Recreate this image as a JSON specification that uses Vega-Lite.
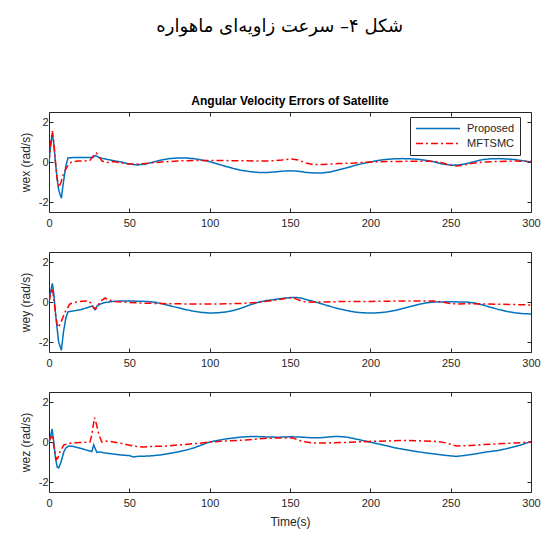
{
  "$schema": "https://vega.github.io/schema/vega-lite/v6.json",
  "padding": {"left": 18, "top": 18, "right": 5, "bottom": 5},
  "background": "white",
  "config": {
    "font": "Liberation Sans",
    "view": {"stroke": "#262626", "strokeWidth": 1},
    "axis": {
      "domain": false, "grid": false, "tickColor": "#262626", "tickSize": -4, "tickWidth": 1,
      "labelColor": "#262626", "labelFontSize": 11, "labelFont": "Liberation Sans", "labelFlush": false, "labelOverlap": false,
      "labelPadding": 5,
      "titleFont": "Liberation Sans", "titleFontWeight": "normal", "titleFontSize": 12, "titleColor": "#262626"
    },
    "axisX": {"labelPadding": 9}
  },
  "title": {"text": "شکل ۴– سرعت زاویه‌ای ماهواره", "font": "DejaVu Sans", "fontSize": 18, "fontWeight": "normal", "anchor": "middle", "frame": "bounds", "offset": 58, "color": "black"},
  "datasets": {
    "x": [
      {"s":"Proposed","t":0,"v":0},{"s":"Proposed","t":1,"v":0.8},{"s":"Proposed","t":2,"v":1.45},{"s":"Proposed","t":3,"v":0.9},{"s":"Proposed","t":4,"v":0.0},{"s":"Proposed","t":5,"v":-0.8},{"s":"Proposed","t":6,"v":-1.4},{"s":"Proposed","t":7.7,"v":-1.81},{"s":"Proposed","t":9,"v":-1.0},{"s":"Proposed","t":10.5,"v":-0.2},{"s":"Proposed","t":11.8,"v":0.2},{"s":"Proposed","t":15,"v":0.22},{"s":"Proposed","t":20,"v":0.22},{"s":"Proposed","t":25,"v":0.22},{"s":"Proposed","t":27.4,"v":0.23},{"s":"Proposed","t":29,"v":0.33},{"s":"Proposed","t":31,"v":0.22},{"s":"Proposed","t":35,"v":0.15},{"s":"Proposed","t":40,"v":0.07},{"s":"Proposed","t":45,"v":0.0},{"s":"Proposed","t":50,"v":-0.1},{"s":"Proposed","t":55,"v":-0.15},{"s":"Proposed","t":60,"v":-0.1},{"s":"Proposed","t":65,"v":0.0},{"s":"Proposed","t":70,"v":0.1},{"s":"Proposed","t":75,"v":0.17},{"s":"Proposed","t":80,"v":0.2},{"s":"Proposed","t":85,"v":0.2},{"s":"Proposed","t":90,"v":0.17},{"s":"Proposed","t":95,"v":0.1},{"s":"Proposed","t":100,"v":0.02},{"s":"Proposed","t":105,"v":-0.1},{"s":"Proposed","t":110,"v":-0.22},{"s":"Proposed","t":115,"v":-0.33},{"s":"Proposed","t":120,"v":-0.42},{"s":"Proposed","t":125,"v":-0.48},{"s":"Proposed","t":130,"v":-0.52},{"s":"Proposed","t":135,"v":-0.53},{"s":"Proposed","t":140,"v":-0.5},{"s":"Proposed","t":145,"v":-0.46},{"s":"Proposed","t":150,"v":-0.44},{"s":"Proposed","t":155,"v":-0.46},{"s":"Proposed","t":160,"v":-0.52},{"s":"Proposed","t":165,"v":-0.55},{"s":"Proposed","t":170,"v":-0.55},{"s":"Proposed","t":175,"v":-0.5},{"s":"Proposed","t":180,"v":-0.4},{"s":"Proposed","t":185,"v":-0.3},{"s":"Proposed","t":190,"v":-0.18},{"s":"Proposed","t":195,"v":-0.08},{"s":"Proposed","t":200,"v":0.0},{"s":"Proposed","t":205,"v":0.08},{"s":"Proposed","t":210,"v":0.13},{"s":"Proposed","t":215,"v":0.16},{"s":"Proposed","t":220,"v":0.17},{"s":"Proposed","t":225,"v":0.16},{"s":"Proposed","t":230,"v":0.13},{"s":"Proposed","t":235,"v":0.08},{"s":"Proposed","t":240,"v":0.0},{"s":"Proposed","t":245,"v":-0.1},{"s":"Proposed","t":250,"v":-0.16},{"s":"Proposed","t":255,"v":-0.15},{"s":"Proposed","t":260,"v":-0.08},{"s":"Proposed","t":265,"v":0.03},{"s":"Proposed","t":270,"v":0.12},{"s":"Proposed","t":275,"v":0.16},{"s":"Proposed","t":280,"v":0.17},{"s":"Proposed","t":285,"v":0.15},{"s":"Proposed","t":290,"v":0.12},{"s":"Proposed","t":295,"v":0.06},{"s":"Proposed","t":300,"v":0.0},
      {"s":"MFTSMC","t":0,"v":0},{"s":"MFTSMC","t":1,"v":0.9},{"s":"MFTSMC","t":2.1,"v":1.55},{"s":"MFTSMC","t":3,"v":1.0},{"s":"MFTSMC","t":4,"v":0.0},{"s":"MFTSMC","t":5,"v":-0.8},{"s":"MFTSMC","t":6.2,"v":-1.27},{"s":"MFTSMC","t":7.5,"v":-1.0},{"s":"MFTSMC","t":9,"v":-0.6},{"s":"MFTSMC","t":10.5,"v":-0.35},{"s":"MFTSMC","t":12,"v":-0.15},{"s":"MFTSMC","t":14,"v":0.0},{"s":"MFTSMC","t":18,"v":0.05},{"s":"MFTSMC","t":22,"v":0.05},{"s":"MFTSMC","t":25.5,"v":0.08},{"s":"MFTSMC","t":27,"v":0.25},{"s":"MFTSMC","t":29.5,"v":0.45},{"s":"MFTSMC","t":31,"v":0.3},{"s":"MFTSMC","t":33,"v":0.05},{"s":"MFTSMC","t":36,"v":-0.02},{"s":"MFTSMC","t":40,"v":0.02},{"s":"MFTSMC","t":45,"v":-0.05},{"s":"MFTSMC","t":50,"v":-0.1},{"s":"MFTSMC","t":55,"v":-0.1},{"s":"MFTSMC","t":60,"v":-0.07},{"s":"MFTSMC","t":70,"v":0.0},{"s":"MFTSMC","t":80,"v":0.05},{"s":"MFTSMC","t":90,"v":0.08},{"s":"MFTSMC","t":100,"v":0.08},{"s":"MFTSMC","t":110,"v":0.07},{"s":"MFTSMC","t":120,"v":0.06},{"s":"MFTSMC","t":130,"v":0.05},{"s":"MFTSMC","t":137,"v":0.05},{"s":"MFTSMC","t":145,"v":0.1},{"s":"MFTSMC","t":151,"v":0.15},{"s":"MFTSMC","t":155,"v":0.1},{"s":"MFTSMC","t":160,"v":-0.05},{"s":"MFTSMC","t":164,"v":-0.13},{"s":"MFTSMC","t":170,"v":-0.12},{"s":"MFTSMC","t":180,"v":-0.08},{"s":"MFTSMC","t":190,"v":-0.05},{"s":"MFTSMC","t":200,"v":0.0},{"s":"MFTSMC","t":210,"v":0.02},{"s":"MFTSMC","t":220,"v":0.03},{"s":"MFTSMC","t":230,"v":0.04},{"s":"MFTSMC","t":240,"v":0.03},{"s":"MFTSMC","t":245,"v":-0.05},{"s":"MFTSMC","t":250,"v":-0.15},{"s":"MFTSMC","t":254,"v":-0.2},{"s":"MFTSMC","t":258,"v":-0.15},{"s":"MFTSMC","t":265,"v":-0.05},{"s":"MFTSMC","t":270,"v":0.0},{"s":"MFTSMC","t":280,"v":0.03},{"s":"MFTSMC","t":290,"v":0.05},{"s":"MFTSMC","t":300,"v":0.02}
    ],
    "y": [
      {"s":"Proposed","t":0,"v":0},{"s":"Proposed","t":1,"v":0.5},{"s":"Proposed","t":2.1,"v":0.93},{"s":"Proposed","t":3,"v":0.4},{"s":"Proposed","t":4,"v":-0.5},{"s":"Proposed","t":5,"v":-1.3},{"s":"Proposed","t":6,"v":-2.0},{"s":"Proposed","t":7.7,"v":-2.41},{"s":"Proposed","t":9,"v":-1.5},{"s":"Proposed","t":10.5,"v":-0.8},{"s":"Proposed","t":11.8,"v":-0.49},{"s":"Proposed","t":15,"v":-0.45},{"s":"Proposed","t":20,"v":-0.38},{"s":"Proposed","t":25,"v":-0.25},{"s":"Proposed","t":27,"v":-0.2},{"s":"Proposed","t":28.4,"v":-0.37},{"s":"Proposed","t":30,"v":-0.2},{"s":"Proposed","t":32,"v":-0.1},{"s":"Proposed","t":35,"v":-0.02},{"s":"Proposed","t":40,"v":0.03},{"s":"Proposed","t":45,"v":0.05},{"s":"Proposed","t":50,"v":0.05},{"s":"Proposed","t":55,"v":0.04},{"s":"Proposed","t":60,"v":0.03},{"s":"Proposed","t":65,"v":0.0},{"s":"Proposed","t":70,"v":-0.08},{"s":"Proposed","t":75,"v":-0.18},{"s":"Proposed","t":80,"v":-0.28},{"s":"Proposed","t":85,"v":-0.38},{"s":"Proposed","t":90,"v":-0.46},{"s":"Proposed","t":95,"v":-0.52},{"s":"Proposed","t":100,"v":-0.55},{"s":"Proposed","t":105,"v":-0.54},{"s":"Proposed","t":110,"v":-0.5},{"s":"Proposed","t":115,"v":-0.42},{"s":"Proposed","t":120,"v":-0.3},{"s":"Proposed","t":125,"v":-0.15},{"s":"Proposed","t":130,"v":-0.02},{"s":"Proposed","t":135,"v":0.07},{"s":"Proposed","t":140,"v":0.12},{"s":"Proposed","t":145,"v":0.18},{"s":"Proposed","t":150,"v":0.22},{"s":"Proposed","t":153,"v":0.23},{"s":"Proposed","t":157,"v":0.2},{"s":"Proposed","t":160,"v":0.12},{"s":"Proposed","t":165,"v":0.02},{"s":"Proposed","t":170,"v":-0.1},{"s":"Proposed","t":175,"v":-0.22},{"s":"Proposed","t":180,"v":-0.33},{"s":"Proposed","t":185,"v":-0.42},{"s":"Proposed","t":190,"v":-0.5},{"s":"Proposed","t":195,"v":-0.54},{"s":"Proposed","t":200,"v":-0.55},{"s":"Proposed","t":205,"v":-0.54},{"s":"Proposed","t":210,"v":-0.5},{"s":"Proposed","t":215,"v":-0.43},{"s":"Proposed","t":220,"v":-0.33},{"s":"Proposed","t":225,"v":-0.22},{"s":"Proposed","t":230,"v":-0.12},{"s":"Proposed","t":235,"v":-0.04},{"s":"Proposed","t":240,"v":0.0},{"s":"Proposed","t":250,"v":0.01},{"s":"Proposed","t":260,"v":0.0},{"s":"Proposed","t":265,"v":-0.05},{"s":"Proposed","t":270,"v":-0.15},{"s":"Proposed","t":275,"v":-0.27},{"s":"Proposed","t":280,"v":-0.38},{"s":"Proposed","t":285,"v":-0.47},{"s":"Proposed","t":290,"v":-0.54},{"s":"Proposed","t":295,"v":-0.58},{"s":"Proposed","t":300,"v":-0.6},
      {"s":"MFTSMC","t":0,"v":0},{"s":"MFTSMC","t":1,"v":0.4},{"s":"MFTSMC","t":2,"v":0.68},{"s":"MFTSMC","t":3,"v":0.2},{"s":"MFTSMC","t":4,"v":-0.6},{"s":"MFTSMC","t":5,"v":-1.1},{"s":"MFTSMC","t":6,"v":-1.27},{"s":"MFTSMC","t":7.5,"v":-1.0},{"s":"MFTSMC","t":9,"v":-0.7},{"s":"MFTSMC","t":10,"v":-0.5},{"s":"MFTSMC","t":11.5,"v":-0.3},{"s":"MFTSMC","t":13,"v":-0.1},{"s":"MFTSMC","t":17,"v":0.0},{"s":"MFTSMC","t":21,"v":0.04},{"s":"MFTSMC","t":24.5,"v":0.05},{"s":"MFTSMC","t":26,"v":-0.05},{"s":"MFTSMC","t":27.5,"v":-0.25},{"s":"MFTSMC","t":29,"v":-0.37},{"s":"MFTSMC","t":31,"v":-0.1},{"s":"MFTSMC","t":33,"v":0.1},{"s":"MFTSMC","t":35,"v":0.2},{"s":"MFTSMC","t":37,"v":0.1},{"s":"MFTSMC","t":41,"v":0.02},{"s":"MFTSMC","t":50,"v":-0.02},{"s":"MFTSMC","t":60,"v":-0.06},{"s":"MFTSMC","t":70,"v":-0.08},{"s":"MFTSMC","t":80,"v":-0.09},{"s":"MFTSMC","t":90,"v":-0.1},{"s":"MFTSMC","t":100,"v":-0.1},{"s":"MFTSMC","t":110,"v":-0.09},{"s":"MFTSMC","t":120,"v":-0.07},{"s":"MFTSMC","t":130,"v":-0.02},{"s":"MFTSMC","t":140,"v":0.08},{"s":"MFTSMC","t":147,"v":0.18},{"s":"MFTSMC","t":150,"v":0.2},{"s":"MFTSMC","t":153,"v":0.18},{"s":"MFTSMC","t":157,"v":0.05},{"s":"MFTSMC","t":160,"v":0.0},{"s":"MFTSMC","t":170,"v":0.0},{"s":"MFTSMC","t":180,"v":0.02},{"s":"MFTSMC","t":190,"v":0.03},{"s":"MFTSMC","t":200,"v":0.03},{"s":"MFTSMC","t":210,"v":0.04},{"s":"MFTSMC","t":220,"v":0.05},{"s":"MFTSMC","t":230,"v":0.05},{"s":"MFTSMC","t":240,"v":0.05},{"s":"MFTSMC","t":245,"v":0.0},{"s":"MFTSMC","t":250,"v":-0.08},{"s":"MFTSMC","t":255,"v":-0.1},{"s":"MFTSMC","t":260,"v":-0.08},{"s":"MFTSMC","t":270,"v":-0.1},{"s":"MFTSMC","t":280,"v":-0.11},{"s":"MFTSMC","t":290,"v":-0.13},{"s":"MFTSMC","t":300,"v":-0.15}
    ],
    "z": [
      {"s":"Proposed","t":0,"v":0},{"s":"Proposed","t":1,"v":0.3},{"s":"Proposed","t":1.9,"v":0.65},{"s":"Proposed","t":3,"v":0.0},{"s":"Proposed","t":4,"v":-0.8},{"s":"Proposed","t":5.1,"v":-1.25},{"s":"Proposed","t":6,"v":-1.3},{"s":"Proposed","t":7.5,"v":-1.0},{"s":"Proposed","t":9.2,"v":-0.5},{"s":"Proposed","t":10.5,"v":-0.3},{"s":"Proposed","t":12.3,"v":-0.2},{"s":"Proposed","t":15,"v":-0.22},{"s":"Proposed","t":20,"v":-0.32},{"s":"Proposed","t":24,"v":-0.42},{"s":"Proposed","t":26.7,"v":-0.48},{"s":"Proposed","t":27.8,"v":-0.15},{"s":"Proposed","t":29.8,"v":-0.52},{"s":"Proposed","t":31.8,"v":-0.5},{"s":"Proposed","t":35,"v":-0.55},{"s":"Proposed","t":40,"v":-0.6},{"s":"Proposed","t":45,"v":-0.65},{"s":"Proposed","t":50,"v":-0.68},{"s":"Proposed","t":52.5,"v":-0.75},{"s":"Proposed","t":55,"v":-0.72},{"s":"Proposed","t":62.7,"v":-0.7},{"s":"Proposed","t":70,"v":-0.64},{"s":"Proposed","t":73,"v":-0.6},{"s":"Proposed","t":80,"v":-0.5},{"s":"Proposed","t":85.5,"v":-0.4},{"s":"Proposed","t":90,"v":-0.3},{"s":"Proposed","t":95,"v":-0.15},{"s":"Proposed","t":100,"v":0.0},{"s":"Proposed","t":105,"v":0.08},{"s":"Proposed","t":110,"v":0.15},{"s":"Proposed","t":114.6,"v":0.2},{"s":"Proposed","t":120,"v":0.25},{"s":"Proposed","t":125,"v":0.27},{"s":"Proposed","t":130,"v":0.27},{"s":"Proposed","t":137,"v":0.25},{"s":"Proposed","t":143,"v":0.24},{"s":"Proposed","t":149.6,"v":0.26},{"s":"Proposed","t":156,"v":0.25},{"s":"Proposed","t":164,"v":0.21},{"s":"Proposed","t":170,"v":0.22},{"s":"Proposed","t":178.7,"v":0.28},{"s":"Proposed","t":185,"v":0.25},{"s":"Proposed","t":191,"v":0.15},{"s":"Proposed","t":199.5,"v":0.0},{"s":"Proposed","t":208,"v":-0.15},{"s":"Proposed","t":216,"v":-0.3},{"s":"Proposed","t":223,"v":-0.4},{"s":"Proposed","t":230.5,"v":-0.5},{"s":"Proposed","t":240,"v":-0.6},{"s":"Proposed","t":247,"v":-0.67},{"s":"Proposed","t":253.3,"v":-0.72},{"s":"Proposed","t":258,"v":-0.68},{"s":"Proposed","t":265,"v":-0.6},{"s":"Proposed","t":272,"v":-0.5},{"s":"Proposed","t":280,"v":-0.42},{"s":"Proposed","t":286.5,"v":-0.3},{"s":"Proposed","t":293,"v":-0.17},{"s":"Proposed","t":299,"v":0.0},{"s":"Proposed","t":300,"v":0.0},
      {"s":"MFTSMC","t":0,"v":0},{"s":"MFTSMC","t":1,"v":0.2},{"s":"MFTSMC","t":1.9,"v":0.36},{"s":"MFTSMC","t":3,"v":-0.2},{"s":"MFTSMC","t":4.6,"v":-0.87},{"s":"MFTSMC","t":5.5,"v":-0.8},{"s":"MFTSMC","t":6.8,"v":-0.5},{"s":"MFTSMC","t":9.2,"v":-0.15},{"s":"MFTSMC","t":12,"v":-0.08},{"s":"MFTSMC","t":14,"v":-0.05},{"s":"MFTSMC","t":20,"v":-0.02},{"s":"MFTSMC","t":25.5,"v":0.0},{"s":"MFTSMC","t":26.5,"v":0.3},{"s":"MFTSMC","t":28.3,"v":1.22},{"s":"MFTSMC","t":29.5,"v":0.9},{"s":"MFTSMC","t":31,"v":0.4},{"s":"MFTSMC","t":32.8,"v":0.0},{"s":"MFTSMC","t":35.8,"v":0.05},{"s":"MFTSMC","t":40,"v":0.0},{"s":"MFTSMC","t":44,"v":-0.05},{"s":"MFTSMC","t":48,"v":-0.12},{"s":"MFTSMC","t":52.5,"v":-0.2},{"s":"MFTSMC","t":58.6,"v":-0.25},{"s":"MFTSMC","t":65,"v":-0.22},{"s":"MFTSMC","t":73,"v":-0.2},{"s":"MFTSMC","t":80,"v":-0.15},{"s":"MFTSMC","t":87.6,"v":-0.1},{"s":"MFTSMC","t":95,"v":-0.05},{"s":"MFTSMC","t":100,"v":0.0},{"s":"MFTSMC","t":110,"v":0.05},{"s":"MFTSMC","t":122.9,"v":0.1},{"s":"MFTSMC","t":130,"v":0.15},{"s":"MFTSMC","t":137,"v":0.19},{"s":"MFTSMC","t":143.6,"v":0.2},{"s":"MFTSMC","t":151.8,"v":0.2},{"s":"MFTSMC","t":156,"v":0.07},{"s":"MFTSMC","t":160,"v":0.0},{"s":"MFTSMC","t":164,"v":-0.05},{"s":"MFTSMC","t":172.6,"v":-0.05},{"s":"MFTSMC","t":185,"v":-0.02},{"s":"MFTSMC","t":199.5,"v":0.03},{"s":"MFTSMC","t":210,"v":0.05},{"s":"MFTSMC","t":220.4,"v":0.08},{"s":"MFTSMC","t":230,"v":0.06},{"s":"MFTSMC","t":241,"v":0.03},{"s":"MFTSMC","t":247.5,"v":-0.05},{"s":"MFTSMC","t":253.5,"v":-0.2},{"s":"MFTSMC","t":261.6,"v":-0.18},{"s":"MFTSMC","t":270,"v":-0.13},{"s":"MFTSMC","t":282,"v":-0.08},{"s":"MFTSMC","t":290,"v":-0.05},{"s":"MFTSMC","t":299,"v":0.0},{"s":"MFTSMC","t":300,"v":0.0}
    ]
  },
  "spacing": 22,
  "resolve": {"scale": {"color": "independent", "strokeDash": "independent"}},
  "vconcat": [
    {
      "width": 482, "height": 100,
      "data": {"name": "x"},
      "title": {"text": "Angular Velocity Errors of Satellite", "fontSize": 12, "fontWeight": "bold", "color": "black", "offset": 4, "anchor": "middle"},
      "layer": [
        {
          "mark": {"type": "line", "strokeWidth": 1.5, "clip": true},
          "encoding": {
            "x": {"field": "t", "type": "quantitative", "scale": {"domain": [0, 300], "nice": false}, "axis": {"orient": "bottom", "values": [0, 50, 100, 150, 200, 250, 300], "title": null}},
            "y": {"field": "v", "type": "quantitative", "scale": {"domain": [-2.5, 2.5], "nice": false}, "axis": {"orient": "left", "values": [-2, 0, 2], "title": "wex (rad/s)", "titlePadding": 6, "labelExpr": "replace(datum.label, '−', '-')"}},
            "color": {"field": "s", "type": "nominal", "scale": {"domain": ["Proposed", "MFTSMC"], "range": ["#0072BD", "#FF0000"]},
              "legend": {"orient": "none", "legendX": 361, "legendY": 5, "title": null, "strokeColor": "#262626", "fillColor": "white", "padding": 5, "labelFontSize": 11, "labelColor": "#262626", "symbolType": "stroke", "symbolSize": 1936, "symbolStrokeWidth": 1.5, "clipHeight": 13, "rowPadding": 2, "labelOffset": 6}},
            "strokeDash": {"field": "s", "type": "nominal", "scale": {"domain": ["Proposed", "MFTSMC"], "range": [[1, 0], [7, 3, 2, 3]]},
              "legend": {"orient": "none", "legendX": 361, "legendY": 5, "title": null, "strokeColor": "#262626", "fillColor": "white", "padding": 5, "labelFontSize": 11, "labelColor": "#262626", "symbolType": "stroke", "symbolSize": 1936, "symbolStrokeWidth": 1.5, "clipHeight": 13, "rowPadding": 2, "labelOffset": 6}}
          }
        },
        {
          "mark": {"type": "point", "opacity": 0},
          "encoding": {
            "x": {"field": "t", "type": "quantitative", "axis": {"orient": "top", "values": [0, 50, 100, 150, 200, 250, 300], "labels": false, "title": null}},
            "y": {"field": "v", "type": "quantitative", "axis": {"orient": "right", "values": [-2, 0, 2], "labels": false, "title": null}}
          }
        }
      ],
      "resolve": {"axis": {"x": "independent", "y": "independent"}}
    },
    {
      "width": 482, "height": 100,
      "data": {"name": "y"},
      "layer": [
        {
          "mark": {"type": "line", "strokeWidth": 1.5, "clip": true},
          "encoding": {
            "x": {"field": "t", "type": "quantitative", "scale": {"domain": [0, 300], "nice": false}, "axis": {"orient": "bottom", "values": [0, 50, 100, 150, 200, 250, 300], "title": null}},
            "y": {"field": "v", "type": "quantitative", "scale": {"domain": [-2.5, 2.5], "nice": false}, "axis": {"orient": "left", "values": [-2, 0, 2], "title": "wey (rad/s)", "titlePadding": 6, "labelExpr": "replace(datum.label, '−', '-')"}},
            "color": {"field": "s", "type": "nominal", "scale": {"domain": ["Proposed", "MFTSMC"], "range": ["#0072BD", "#FF0000"]}, "legend": null},
            "strokeDash": {"field": "s", "type": "nominal", "scale": {"domain": ["Proposed", "MFTSMC"], "range": [[1, 0], [7, 3, 2, 3]]}, "legend": null}
          }
        },
        {
          "mark": {"type": "point", "opacity": 0},
          "encoding": {
            "x": {"field": "t", "type": "quantitative", "axis": {"orient": "top", "values": [0, 50, 100, 150, 200, 250, 300], "labels": false, "title": null}},
            "y": {"field": "v", "type": "quantitative", "axis": {"orient": "right", "values": [-2, 0, 2], "labels": false, "title": null}}
          }
        }
      ],
      "resolve": {"axis": {"x": "independent", "y": "independent"}}
    },
    {
      "width": 482, "height": 100,
      "data": {"name": "z"},
      "layer": [
        {
          "mark": {"type": "line", "strokeWidth": 1.5, "clip": true},
          "encoding": {
            "x": {"field": "t", "type": "quantitative", "scale": {"domain": [0, 300], "nice": false}, "axis": {"orient": "bottom", "values": [0, 50, 100, 150, 200, 250, 300], "title": "Time(s)", "titlePadding": 8}},
            "y": {"field": "v", "type": "quantitative", "scale": {"domain": [-2.5, 2.5], "nice": false}, "axis": {"orient": "left", "values": [-2, 0, 2], "title": "wez (rad/s)", "titlePadding": 6, "labelExpr": "replace(datum.label, '−', '-')"}},
            "color": {"field": "s", "type": "nominal", "scale": {"domain": ["Proposed", "MFTSMC"], "range": ["#0072BD", "#FF0000"]}, "legend": null},
            "strokeDash": {"field": "s", "type": "nominal", "scale": {"domain": ["Proposed", "MFTSMC"], "range": [[1, 0], [7, 3, 2, 3]]}, "legend": null}
          }
        },
        {
          "mark": {"type": "point", "opacity": 0},
          "encoding": {
            "x": {"field": "t", "type": "quantitative", "axis": {"orient": "top", "values": [0, 50, 100, 150, 200, 250, 300], "labels": false, "title": null}},
            "y": {"field": "v", "type": "quantitative", "axis": {"orient": "right", "values": [-2, 0, 2], "labels": false, "title": null}}
          }
        }
      ],
      "resolve": {"axis": {"x": "independent", "y": "independent"}}
    }
  ]
}
